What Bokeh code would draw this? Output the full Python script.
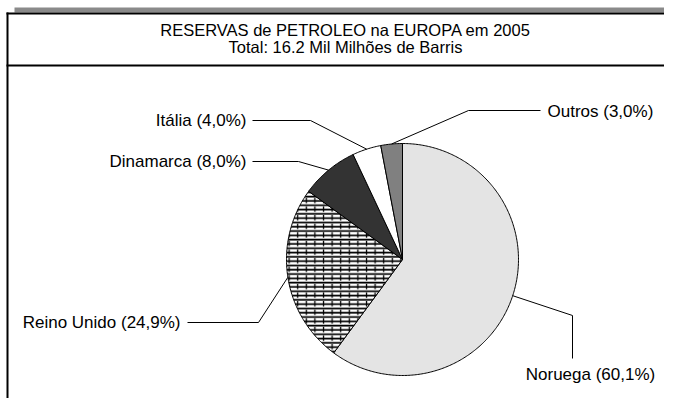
import numpy as np
from bokeh.plotting import figure
from bokeh.models import Range1d
from bokeh.core.properties import value
from bokeh.embed import file_html
from bokeh.resources import INLINE

# ---- data ----
title_lines = ["RESERVAS de PETROLEO na EUROPA em 2005", "Total: 16.2 Mil Milhões de Barris"]
countries = ["Noruega", "Reino Unido", "Dinamarca", "Itália", "Outros"]
shares = [60.1, 24.9, 8.0, 4.0, 3.0]
share_labels = ["60,1%", "24,9%", "8,0%", "4,0%", "3,0%"]

# ---- styles / layout ----
colors = ["#e4e4e4", "#ffffff", "#333333", "#ffffff", "#808080"]
FONT = value("Liberation Sans")
W, H = 664, 398
cx, cy, R = 402, 259, 116
# label layout: elbow point, end point, text anchor, align
elbows = [(572, 315), (258, 322), (298, 161), (310, 120), (468, 110)]
ends = [(572, 358), (187, 322), (252, 161), (252, 120), (540, 110)]
text_pos = [(590, 374), (180, 322), (246, 161), (246, 120), (547, 111)]
aligns = ["center", "right", "right", "right", "left"]

p = figure(width=W, height=H, output_backend="svg", toolbar_location=None,
           x_range=Range1d(0, W), y_range=Range1d(H, 0),
           min_border=0, outline_line_color=None)
p.axis.visible = False
p.grid.visible = False
p.background_fill_color = "white"
p.border_fill_color = "white"

# frame
p.quad(left=[14], right=[W], top=[7], bottom=[12], fill_color="#8a8a8a", line_color=None)
p.line([6, W], [13, 13], line_color="black", line_width=2)
p.line([7, 7], [12, H], line_color="black", line_width=2)
p.line([6, W], [65, 65], line_color="black", line_width=2)

p.text(x=[345, 345], y=[29, 46], text=title_lines, text_font=FONT, text_font_size="16.5px",
       text_align="center", text_baseline="middle", text_color="black")

# pie
fr = np.array(shares) / sum(shares)
starts = np.concatenate([[0], np.cumsum(fr)[:-1]]) * 2 * np.pi
stops = np.cumsum(fr) * 2 * np.pi
xs, ys = [], []
for a0, a1 in zip(starts, stops):
    t = np.linspace(a0, a1, max(4, int((a1 - a0) * 80)))
    xs.append(list(np.concatenate([[cx], cx + R * np.sin(t)])))
    ys.append(list(np.concatenate([[cy], cy - R * np.cos(t)])))

for i in range(len(countries)):
    if countries[i] == "Reino Unido":
        p.patch(xs[i], ys[i], fill_color="white", line_color=None,
                hatch_pattern="horizontal_line", hatch_color="black",
                hatch_scale=4.3, hatch_weight=1.7)
        p.patch(xs[i], ys[i], fill_alpha=0, line_color="black", line_width=1,
                hatch_pattern="vertical_dash", hatch_color="black",
                hatch_scale=8.6, hatch_weight=1.3)
    else:
        p.patch(xs[i], ys[i], fill_color=colors[i], line_color="black", line_width=1)

# leaders and labels
mids = (starts + stops) / 2
for i in range(len(countries)):
    sx = cx + R * np.sin(mids[i])
    sy = cy - R * np.cos(mids[i])
    p.line([sx, elbows[i][0], ends[i][0]], [sy, elbows[i][1], ends[i][1]],
           line_color="black", line_width=1)
    p.text(x=[text_pos[i][0]], y=[text_pos[i][1]],
           text=[f"{countries[i]} ({share_labels[i]})"], text_font=FONT,
           text_font_size="17px", text_align=aligns[i], text_baseline="middle",
           text_color="black")

open("out.html", "w").write(file_html(p, INLINE))
